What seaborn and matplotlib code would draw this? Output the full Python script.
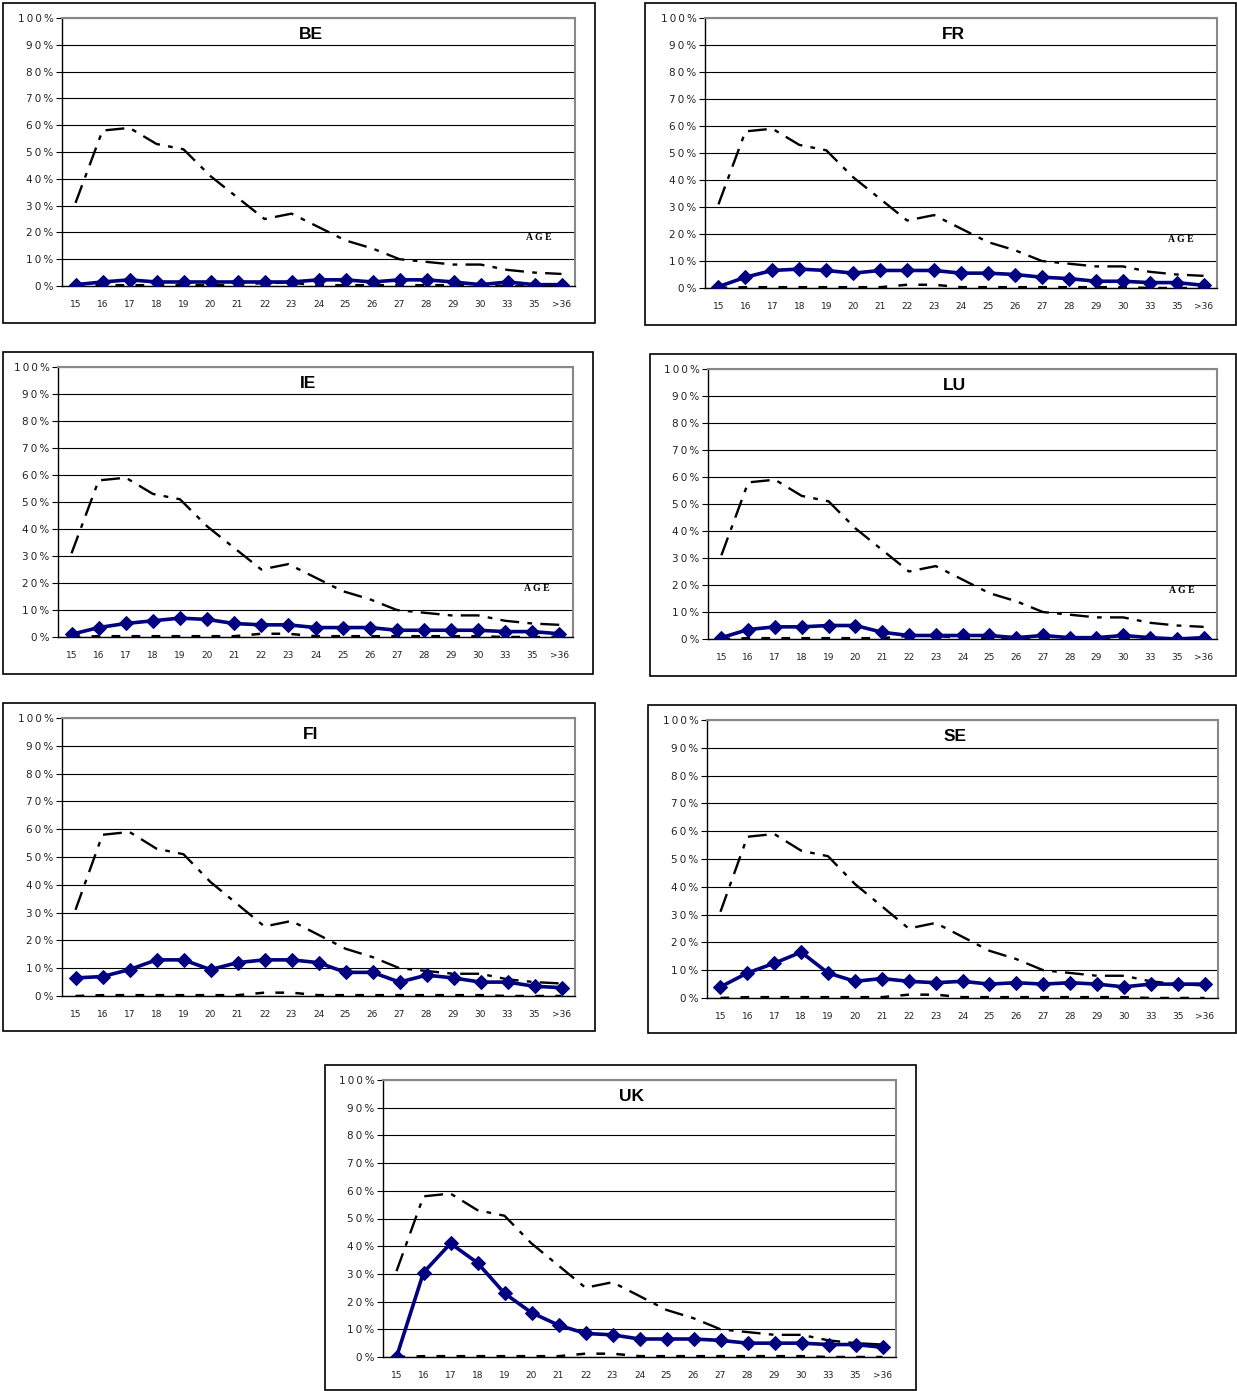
import numpy as np
import pandas as pd
import seaborn as sns
import matplotlib.pyplot as plt
from matplotlib.patches import Rectangle

# age categories on the x axis
ages = ['15', '16', '17', '18', '19', '20', '21', '22', '23', '24', '25', '26',
        '27', '28', '29', '30', '33', '35', '>36']

# reference curve (dash-dot) - the same in every panel
ref_curve = [31, 58, 59, 53, 51, 41, 33, 25, 27, 22, 17, 14, 10, 9, 8, 8, 6, 5, 4.5]
# low reference curve (dashed), near zero
low_curve = [0, 0.3, 0.3, 0.3, 0.3, 0.3, 0.3, 1.2, 1.2, 0.3, 0.3, 0.3, 0.3, 0.3,
             0.3, 0.3, 0, 0, 0]

# country series (blue with diamonds)
be = [0.5, 1.5, 2.3, 1.5, 1.5, 1.5, 1.5, 1.5, 1.5, 2.3, 2.3, 1.5, 2.3, 2.3, 1.5, 0.5, 1.5, 0.5, 0.5]
fr = [0.5, 4, 6.5, 7, 6.5, 5.5, 6.5, 6.5, 6.5, 5.5, 5.5, 5, 4, 3.5, 2.5, 2.5, 2, 2, 1]
ie = [1, 3.5, 5, 6, 7, 6.5, 5, 4.5, 4.5, 3.5, 3.5, 3.5, 2.5, 2.5, 2.5, 2.5, 2, 2, 1.2]
lu = [0.5, 3.5, 4.5, 4.5, 5, 5, 2.5, 1.3, 1.3, 1.3, 1.3, 0.5, 1.3, 0.5, 0.5, 1.3, 0.5, 0, 0.5]
fi = [6.5, 7, 9.5, 13, 13, 9.5, 12, 13, 13, 12, 8.5, 8.5, 5, 7.5, 6.5, 5, 5, 3.5, 3]
se = [4, 9, 12.5, 16.5, 9, 6, 7, 6, 5.5, 6, 5, 5.5, 5, 5.5, 5, 4, 5, 5, 5]
uk = [0, 30.5, 41, 34, 23, 16, 11.5, 8.5, 8, 6.5, 6.5, 6.5, 6, 5, 5, 5, 4.5, 4.5, 3.5]

countries = ['BE', 'FR', 'IE', 'LU', 'FI', 'SE', 'UK']
series = [be, fr, ie, lu, fi, se, uk]
show_age = [True, True, True, True, False, False, False]

# pixel layout: outer box (l, t, r, b) and plot area (l, t, r, b)
W, H = 1237, 1391
boxes = [(3, 3, 595, 323), (645, 3, 1236, 325), (3, 352, 593, 674), (650, 354, 1236, 676),
         (3, 703, 595, 1031), (648, 705, 1236, 1033), (325, 1065, 916, 1390)]
plots = [(62, 18, 575, 286), (705, 18, 1217, 288), (58, 367, 573, 637), (708, 369, 1217, 639),
         (62, 718, 575, 996), (707, 720, 1218, 998), (383, 1080, 896, 1357)]

sns.set_style('white')
plt.rcParams['font.family'] = ['DejaVu Sans']

fig = plt.figure(figsize=(W / 100, H / 100), dpi=100)
x = np.arange(len(ages))
ylabels = ['\u2009'.join(f'{v}%') for v in range(0, 101, 10)]

for name, vals, age_lbl, box, pl in zip(countries, series, show_age, boxes, plots):
    fig.patches.append(Rectangle((box[0] / W, 1 - box[3] / H), (box[2] - box[0]) / W,
                                 (box[3] - box[1]) / H, transform=fig.transFigure,
                                 fill=False, edgecolor='black', lw=1.2))
    ax = fig.add_axes([pl[0] / W, 1 - pl[3] / H, (pl[2] - pl[0]) / W, (pl[3] - pl[1]) / H])
    df = pd.DataFrame({'x': x, 'ref': ref_curve, 'low': low_curve, 'val': vals})

    sns.lineplot(data=df, x='x', y='ref', ax=ax, color='black', lw=1.7,
                 linestyle=(0, (8, 3.5, 2, 3.5)), zorder=3)
    sns.lineplot(data=df, x='x', y='low', ax=ax, color='black', lw=1.8,
                 linestyle=(0, (3.5, 4.5)), zorder=3)
    sns.lineplot(data=df, x='x', y='val', ax=ax, color='#000080', lw=2.6,
                 marker='D', markersize=7.5, markeredgecolor='#000080', zorder=4)

    ax.set_xlim(-0.5, len(ages) - 0.5)
    ax.set_ylim(0, 100)
    ax.set_yticks(np.arange(0, 101, 10))
    ax.set_yticklabels(ylabels, fontsize=7.5, color='#222222')
    ax.set_xticks(x)
    ax.set_xticklabels(ages, fontsize=6.5, color='#222222')
    ax.set_xticks(np.arange(-0.5, len(ages), 1), minor=True)
    ax.tick_params(axis='x', which='major', length=0, pad=10)
    ax.tick_params(axis='x', which='minor', length=4, width=0.8, color='black', direction='out')
    ax.tick_params(axis='y', length=4, width=0.8, color='black', direction='out', pad=2, left=True)
    ax.yaxis.grid(True, color='black', lw=0.8)
    ax.set_axisbelow(True)
    ax.set_xlabel('')
    ax.set_ylabel('')
    for s in ['top', 'right']:
        ax.spines[s].set_color('#888888')
        ax.spines[s].set_linewidth(1.5)
    ax.spines['left'].set_color('black')
    ax.spines['bottom'].set_color('black')
    ax.spines['left'].set_linewidth(1.0)
    ax.spines['bottom'].set_linewidth(1.0)

    ax.text(0.485, 0.94, name, transform=ax.transAxes, ha='center', va='center',
            fontsize=12.5, fontweight='bold', color='black', family='Liberation Sans')
    if age_lbl:
        ax.text(0.93, 0.18, 'A G E', transform=ax.transAxes, ha='center', va='center',
                fontsize=7, fontweight='bold', color='black', family='Liberation Serif')

fig.savefig('out.png', dpi=100)
